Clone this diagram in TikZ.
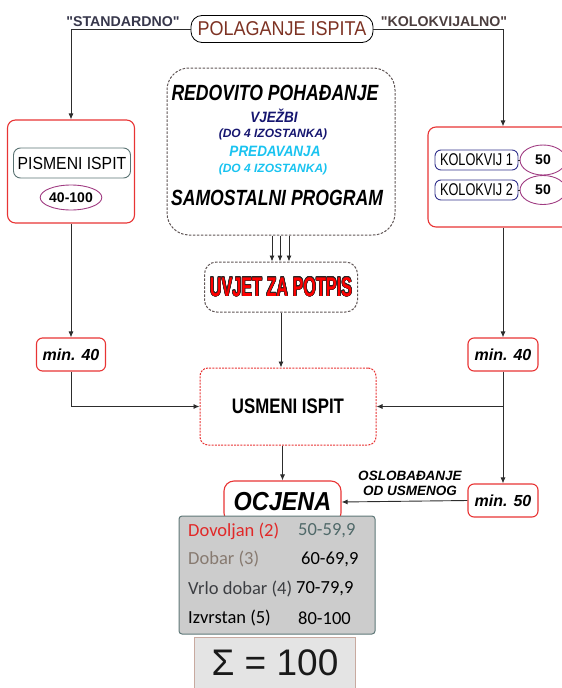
\documentclass[tikz,border=0pt]{standalone}
\usepackage{fontspec}
\setmainfont{Liberation Sans}
\newfontfamily\nineFont[FakeStretch=0.9]{Liberation Sans}
\newfontfamily\eightFont[FakeStretch=0.8]{Liberation Sans}
\newfontfamily\kolFont[FakeStretch=0.75]{Liberation Sans}
\newfontfamily\uvjetFont[FakeStretch=0.6]{Liberation Sans}
\newfontfamily\gradeFont{Carlito}
\usepackage[copies]{contour}
\usetikzlibrary{arrows.meta,shapes.geometric}

\definecolor{frameRed}{RGB}{232,52,52}
\definecolor{lineGray}{RGB}{45,45,45}
\definecolor{dashGray}{RGB}{95,85,85}
\definecolor{titleBrown}{RGB}{125,50,35}
\definecolor{navyText}{RGB}{22,22,112}
\definecolor{cyanText}{RGB}{25,195,240}
\definecolor{pismBorder}{RGB}{90,115,115}
\definecolor{ovalPurple}{RGB}{160,60,130}
\definecolor{kolBorder}{RGB}{50,50,140}
\definecolor{stdText}{RGB}{55,55,75}
\definecolor{kolText}{RGB}{75,62,62}
\definecolor{gradeFill}{RGB}{204,204,204}
\definecolor{gradeBorder}{RGB}{95,120,120}
\definecolor{sumFill}{RGB}{228,228,228}
\definecolor{sumBorder}{RGB}{200,170,160}
\definecolor{dovRed}{RGB}{225,40,40}
\definecolor{dobBrown}{RGB}{135,122,112}
\definecolor{vrloGray}{RGB}{60,62,66}
\definecolor{slateText}{RGB}{80,105,105}

\newcommand\setfs[1]{\fontsize{#1}{#1}\selectfont}

\begin{document}
\begin{tikzpicture}[x=1pt,y=-1pt,
  redbox/.style={draw=frameRed,line width=1.1pt,rounded corners=8pt,inner sep=0pt},
  dashbox/.style={draw=dashGray,line width=1pt,dash pattern=on 2.5pt off 1.5pt,inner sep=0pt},
  oval/.style={ellipse,draw=ovalPurple,line width=0.9pt,inner sep=0pt},
  arr/.style={draw=lineGray,line width=0.9pt,-{Latex[length=6pt,width=5pt]}},
  lin/.style={draw=lineGray,line width=0.9pt}]
\clip (0,0) rectangle (562,688);

% naslov
\node[draw=black,line width=0.8pt,rounded corners=11pt,minimum width=182pt,minimum height=27pt,inner sep=0pt]
  (polag) at (282,29) {\nineFont\setfs{20}\color{titleBrown}POLAGANJE ISPITA};
\node (std) at (123,22) {\bfseries\setfs{14.2}\color{stdText}\textquotedbl STANDARDNO\textquotedbl};
\node (kol) at (444,22) {\bfseries\setfs{14.2}\color{kolText}\textquotedbl KOLOKVIJALNO\textquotedbl};

% pismeni
\node[redbox,minimum width=127pt,minimum height=103pt] (lbox) at (71,171.5) {};
\node[draw=pismBorder,line width=0.9pt,rounded corners=7pt,minimum width=117pt,minimum height=30pt,inner sep=0pt]
  (pism) at (72,163) {\nineFont\setfs{17.5}PISMENI ISPIT};
\node[oval,minimum width=52pt,minimum height=25pt] (pbod) at (71,197.5) {\bfseries\setfs{14}40-100};

% kolokviji
\node[redbox,minimum width=150pt,minimum height=100pt] (rbox) at (503,177) {};
\node[draw=kolBorder,line width=0.9pt,rounded corners=6pt,minimum width=83pt,minimum height=20pt,inner sep=0pt]
  (kol1) at (476.5,160) {\kolFont\setfs{17}KOLOKVIJ 1};
\node[draw=kolBorder,line width=0.9pt,rounded corners=6pt,minimum width=83pt,minimum height=20pt,inner sep=0pt]
  (kol2) at (476.5,190) {\kolFont\setfs{17}KOLOKVIJ 2};
\node[oval,minimum width=46pt,minimum height=30pt] (kbod1) at (543,160) {\bfseries\setfs{14}50};
\node[oval,minimum width=46pt,minimum height=29pt] (kbod2) at (543,190) {\bfseries\setfs{14}50};
\draw[lin] (kol1.east) -- (kbod1.west);
\draw[lin] (kol2.east) -- (kbod2.west);

% pohadjanje
\node[dashbox,rounded corners=22pt,minimum width=228pt,minimum height=167pt] (pohad) at (281,151.5) {};
\node (redov) at (275,93) {\eightFont\bfseries\itshape\setfs{22}REDOVITO POHAĐANJE};
\node (vjez) at (274,116) {\nineFont\bfseries\itshape\setfs{15}\color{navyText}VJEŽBI};
\node (vjezdo) at (273,134) {\bfseries\itshape\setfs{12}\color{navyText}(DO 4 IZOSTANKA)};
\node (pred) at (275,151) {\nineFont\bfseries\itshape\setfs{15}\color{cyanText}PREDAVANJA};
\node (preddo) at (273,169) {\bfseries\itshape\setfs{12}\color{cyanText}(DO 4 IZOSTANKA)};
\node (samost) at (277,198) {\eightFont\bfseries\itshape\setfs{22}SAMOSTALNI PROGRAM};

\node[dashbox,rounded corners=12pt,minimum width=153pt,minimum height=50pt] (uvjet) at (281,287)
  {\uvjetFont\bfseries\setfs{27}\contourlength{0.45pt}\contour{black!85}{\color{red}UVJET ZA POTPIS}};
\draw[arr] ([xshift=-9pt]pohad.south) -- ([xshift=-9pt]uvjet.north);
\draw[arr] ([xshift=-1pt]pohad.south) -- ([xshift=-1pt]uvjet.north);
\draw[arr] ([xshift=8pt]pohad.south) -- ([xshift=8pt]uvjet.north);

% bodovi
\node[redbox,rounded corners=6pt,minimum width=69pt,minimum height=33pt] (minL) at (71,354.5)
  {\bfseries\itshape\setfs{16}min. 40};
\node[redbox,rounded corners=6pt,minimum width=70pt,minimum height=33pt] (minR) at (503,354.5)
  {\bfseries\itshape\setfs{16}min. 40};
\node[redbox,rounded corners=6pt,minimum width=70pt,minimum height=33pt] (minU) at (503,500.5)
  {\bfseries\itshape\setfs{16}min. 50};

\node[draw=frameRed,line width=1pt,dash pattern=on 2pt off 1.2pt,rounded corners=8pt,
  minimum width=176pt,minimum height=77pt,inner sep=0pt] (usm) at (288,406.5)
  {\eightFont\bfseries\setfs{21}USMENI ISPIT};
\node[redbox,rounded corners=10pt,minimum width=117pt,minimum height=42pt] (ocj) at (282.5,502)
  {\nineFont\bfseries\itshape\setfs{26}OCJENA};
\node[align=center,inner sep=0pt,font=\bfseries\itshape\setfs{13.5}] (oslob) at (410,483.5)
  {OSLOBAĐANJE\\[1.5pt]OD USMENOG};

% veze
\draw[arr] (polag.west) -| (lbox.north);
\draw[arr] (polag.east) -| (rbox.north);
\draw[arr] (lbox.south) -- (minL.north);
\draw[arr] (rbox.south) -- (minR.north);
\draw[arr] (minL.south) |- (usm.west);
\draw[arr] (minR.south) -- (minU.north);
\draw[arr] (minR.south |- usm.east) -- (usm.east);
\draw[arr] (uvjet.south) -- (uvjet.south |- usm.north);
\draw[arr] (ocj.north |- usm.south) -- (ocj.north);
\draw[arr] (minU.west) -- (ocj.east);

% ocjene
\node[draw=gradeBorder,fill=gradeFill,line width=1pt,rounded corners=3pt,minimum width=196pt,
  minimum height=118pt,inner sep=0pt] (grades) at (277,575) {};
\node[anchor=west,inner sep=0pt] (g2) at (188,531) {\gradeFont\setfs{18.5}\color{dovRed}Dovoljan (2)};
\node[anchor=west,inner sep=0pt] (g2b) at (298,531) {\gradeFont\setfs{18.5}\color{slateText}50-59,9};
\node[anchor=west,inner sep=0pt] (g3) at (188,559) {\gradeFont\setfs{18.5}\color{dobBrown}Dobar (3)};
\node[anchor=west,inner sep=0pt] (g3b) at (301,559) {\gradeFont\setfs{18.5}\color{black}60-69,9};
\node[anchor=west,inner sep=0pt] (g4) at (188,589) {\gradeFont\setfs{18.5}\color{vrloGray}Vrlo dobar (4)};
\node[anchor=west,inner sep=0pt] (g4b) at (296,589) {\gradeFont\setfs{18.5}\color{black}70-79,9};
\node[anchor=west,inner sep=0pt] (g5) at (188,618) {\gradeFont\setfs{18.5}\color{black}Izvrstan (5)};
\node[anchor=west,inner sep=0pt] (g5b) at (298,618) {\gradeFont\setfs{18.5}\color{black}80-100};

\node[draw=sumBorder,fill=sumFill,line width=0.8pt,minimum width=161pt,minimum height=63pt,inner sep=0pt,
  anchor=north] (suma) at (274.5,637) {};
\node (sumtext) at (275,663) {\setfs{37}\color{black!90}Σ = 100};
\end{tikzpicture}
\end{document}
